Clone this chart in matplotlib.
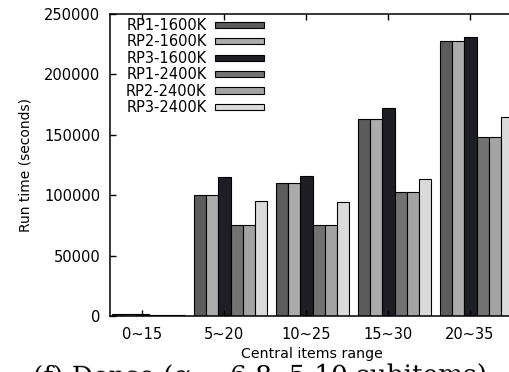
import matplotlib
matplotlib.use("Agg")
import matplotlib.pyplot as plt
import numpy as np

# ---- data -------------------------------------------------------------
ranges = ["0~15", "5~20", "10~25", "15~30", "20~35"]
series = ["RP1-1600K", "RP2-1600K", "RP3-1600K",
          "RP1-2400K", "RP2-2400K", "RP3-2400K"]
rp1_1600 = [1500, 100000, 110000, 163000, 228000]
rp2_1600 = [1500, 100000, 110000, 163000, 228000]
rp3_1600 = [1500, 115000, 116000, 172000, 231000]
rp1_2400 = [1200, 75000, 75000, 103000, 148000]
rp2_2400 = [1200, 75000, 75000, 103000, 148000]
rp3_2400 = [1200, 95000, 94000, 113000, 165000]
yticks = [0, 50000, 100000, 150000, 200000, 250000]

values = [rp1_1600, rp2_1600, rp3_1600, rp1_2400, rp2_2400, rp3_2400]
fills = ["#5c5c5c", "#ababab", "#1e1e26", "#727272", "#a3a3a3", "#dadada"]

W, H = 509, 372
fig = plt.figure(figsize=(W / 100, H / 100), dpi=100)
plt.rcParams["font.family"] = ["DejaVu Sans"]

# axes box in pixel terms: left 110, bottom 316, top 14
x0 = -0.39
x1 = 4.6
px_per_unit = 82.0
ax_w = (x1 - x0) * px_per_unit
ax = fig.add_axes([110 / W, (H - 316) / H, ax_w / W, 302 / H])

pos = np.arange(len(ranges))
bw = 0.15
start = -0.37
for i, (vals, col, name) in enumerate(zip(values, fills, series)):
    ax.bar(pos + start + i * bw, vals, width=bw, align="edge",
           color=col, edgecolor="black", linewidth=0.8, label=name)

ax.set_xlim(x0, x1)
ax.set_ylim(0, 250000)
ax.set_xticks(pos)
ax.set_xticklabels(ranges)
ax.set_yticks(yticks)
ax.set_yticklabels([str(v) for v in yticks])

for s in ax.spines.values():
    s.set_linewidth(1.1)
ax.tick_params(axis="both", direction="in", length=4, width=1.0,
               labelsize=10.5, top=True, right=False)
ax.tick_params(axis="x", pad=8)
ax.tick_params(axis="y", pad=7)

ax.set_xlabel("Central items range", fontsize=10.2)
ax.xaxis.set_label_coords((312 - 110) / ax_w, (316 - 347) / 302)
ax.set_ylabel("Run time (seconds)", fontsize=10)
ax.yaxis.set_label_coords((33 - 110) / ax_w, 0.5)

leg = ax.legend(loc="upper left", bbox_to_anchor=(126 / W, 1 - 18 / H),
                bbox_transform=fig.transFigure, frameon=False,
                markerfirst=False, fontsize=10.5, handlelength=3.4,
                handleheight=0.28, handletextpad=0.55, labelspacing=0.1,
                borderpad=0, borderaxespad=0)

# figure caption, running off the lower edge of the canvas
fig.text(33 / W, 1 - 385 / H, "(f) Dense (α = 6,8, 5-10 subitems)",
         family="DejaVu Serif", fontsize=19, va="baseline", ha="left",
         rotation=0.25, rotation_mode="anchor")

fig.savefig("out.png", dpi=100, facecolor="white")
